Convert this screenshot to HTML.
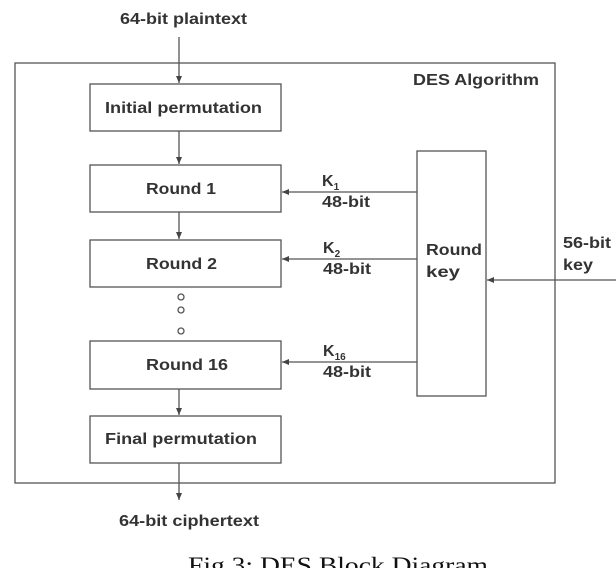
<!DOCTYPE html>
<html><head><meta charset="utf-8"><style>
html,body{margin:0;padding:0;background:#fff;}
svg{display:block;}
.t{font-family:"Liberation Sans",sans-serif;font-weight:bold;font-size:16px;fill:#333;}
</style></head><body>
<svg width="616" height="568" viewBox="0 0 616 568" xmlns="http://www.w3.org/2000/svg">
<defs><marker id="a" markerWidth="8" markerHeight="8" refX="7" refY="4" orient="auto" markerUnits="userSpaceOnUse"><path d="M0,1 L7,4 L0,7 z" fill="#444"/></marker></defs>
<g fill="none" stroke="#555" stroke-width="1.3">
<rect x="15" y="63" width="540" height="420"/>
<rect x="90" y="84" width="191" height="47"/>
<rect x="90" y="165" width="191" height="47"/>
<rect x="90" y="240" width="191" height="47"/>
<rect x="90" y="341" width="191" height="48"/>
<rect x="90" y="416" width="191" height="47"/>
<rect x="417" y="151" width="69" height="245"/>
<line x1="179" y1="37" x2="179" y2="83" marker-end="url(#a)"/>
<line x1="179" y1="131" x2="179" y2="164" marker-end="url(#a)"/>
<line x1="179" y1="212" x2="179" y2="239" marker-end="url(#a)"/>
<line x1="179" y1="389" x2="179" y2="415" marker-end="url(#a)"/>
<line x1="179" y1="463" x2="179" y2="500" marker-end="url(#a)"/>
<line x1="417" y1="192" x2="282" y2="192" marker-end="url(#a)"/>
<line x1="417" y1="259" x2="282" y2="259" marker-end="url(#a)"/>
<line x1="417" y1="362" x2="282" y2="362" marker-end="url(#a)"/>
<line x1="616" y1="280" x2="487" y2="280" marker-end="url(#a)"/>
<circle cx="181" cy="297" r="3"/>
<circle cx="181" cy="310" r="3"/>
<circle cx="181" cy="331" r="3"/>
</g>
<g class="t" lengthAdjust="spacingAndGlyphs">
<text class="t" x="120" y="24" textLength="127" lengthAdjust="spacingAndGlyphs">64-bit plaintext</text>
<text class="t" x="413" y="85" textLength="126" lengthAdjust="spacingAndGlyphs">DES Algorithm</text>
<text class="t" x="105" y="113" textLength="157" lengthAdjust="spacingAndGlyphs">Initial permutation</text>
<text class="t" x="146" y="194" textLength="70" lengthAdjust="spacingAndGlyphs">Round 1</text>
<text class="t" x="146" y="269" textLength="71" lengthAdjust="spacingAndGlyphs">Round 2</text>
<text class="t" x="146" y="370" textLength="82" lengthAdjust="spacingAndGlyphs">Round 16</text>
<text class="t" x="105" y="444" textLength="152" lengthAdjust="spacingAndGlyphs">Final permutation</text>
<text class="t" x="322" y="186">K<tspan font-size="10" dy="4">1</tspan></text>
<text class="t" x="322" y="207" textLength="48" lengthAdjust="spacingAndGlyphs">48-bit</text>
<text class="t" x="323" y="253">K<tspan font-size="10" dy="4">2</tspan></text>
<text class="t" x="323" y="274" textLength="48" lengthAdjust="spacingAndGlyphs">48-bit</text>
<text class="t" x="323" y="356">K<tspan font-size="10" dy="4">16</tspan></text>
<text class="t" x="323" y="377" textLength="48" lengthAdjust="spacingAndGlyphs">48-bit</text>
<text class="t" x="426" y="255" textLength="56" lengthAdjust="spacingAndGlyphs">Round</text>
<text class="t" x="426" y="277" textLength="34" lengthAdjust="spacingAndGlyphs">key</text>
<text class="t" x="563" y="248" textLength="48" lengthAdjust="spacingAndGlyphs">56-bit</text>
<text class="t" x="563" y="270" textLength="30" lengthAdjust="spacingAndGlyphs">key</text>
<text class="t" x="119" y="526" textLength="140" lengthAdjust="spacingAndGlyphs">64-bit ciphertext</text>
</g>
<text x="188" y="573" font-family="Liberation Serif,serif" font-size="23" fill="#111" textLength="300" lengthAdjust="spacingAndGlyphs">Fig 3: DES Block Diagram</text>
</svg>
</body></html>
